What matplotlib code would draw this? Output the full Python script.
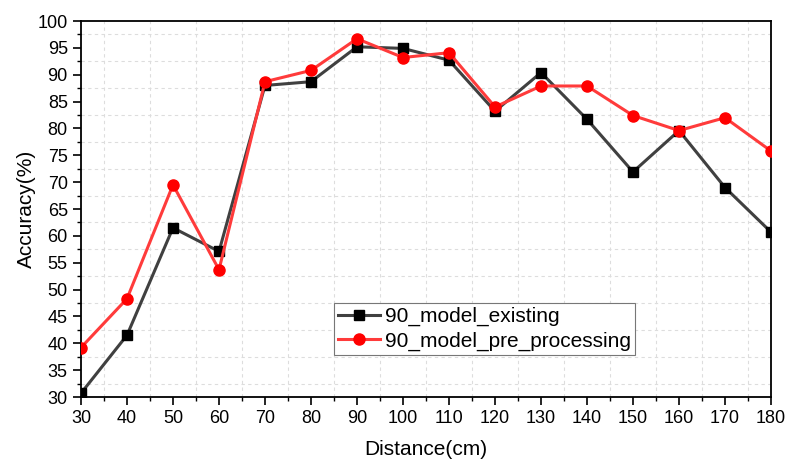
import numpy as np
import matplotlib.pyplot as plt
from matplotlib.ticker import MultipleLocator

plt.rcParams['font.family'] = ['Liberation Sans', 'DejaVu Sans']

distance = [30, 40, 50, 60, 70, 80, 90, 100, 110, 120, 130, 140, 150, 160, 170, 180]
existing = [30.7, 41.5, 61.5, 57.1, 88.0, 88.7, 95.2, 94.9, 92.7, 83.2, 90.4, 81.7, 71.9, 79.6, 69.0, 60.7]
pre_processing = [39.2, 48.3, 69.5, 53.7, 88.7, 90.8, 96.7, 93.2, 94.1, 84.0, 87.9, 87.9, 82.4, 79.6, 82.0, 75.8]

fig = plt.figure(figsize=(7.85, 4.59), dpi=100)
ax = fig.add_axes([81 / 785, 62 / 459, 690 / 785, 376 / 459])

ax.plot(distance, existing, '-s', color='#404040', lw=2.2, marker='s', ms=7,
        mfc='black', mec='black', label='90_model_existing', zorder=3)
ax.plot(distance, pre_processing, '-o', color='#ff3b3b', lw=2.2, ms=8,
        mfc='red', mec='red', label='90_model_pre_processing', zorder=4)

ax.set_xlim(30, 180)
ax.set_ylim(30, 100)
ax.xaxis.set_major_locator(MultipleLocator(10))
ax.xaxis.set_minor_locator(MultipleLocator(5))
ax.yaxis.set_major_locator(MultipleLocator(5))
ax.yaxis.set_minor_locator(MultipleLocator(2.5))
ax.grid(which='minor', color='#dddddd', ls=(0, (3, 3)), lw=0.8)
ax.tick_params(which='major', direction='out', length=6, width=1.2, labelsize=13)
ax.tick_params(which='minor', direction='out', length=3, width=1)
for s in ax.spines.values():
    s.set_linewidth(1.3)

ax.set_xlabel('Distance(cm)', fontsize=15, labelpad=9)
ax.set_ylabel('Accuracy(%)', fontsize=15, labelpad=1)

leg = ax.legend(loc='lower left', bbox_to_anchor=(0.367, 0.112), fontsize=15,
                frameon=True, fancybox=False, edgecolor='#777777', framealpha=1,
                handlelength=2.0, borderpad=0.2, labelspacing=0.25, handletextpad=0.25,
                borderaxespad=0)
leg.get_frame().set_linewidth(0.8)

fig.savefig('out.png', dpi=100)
